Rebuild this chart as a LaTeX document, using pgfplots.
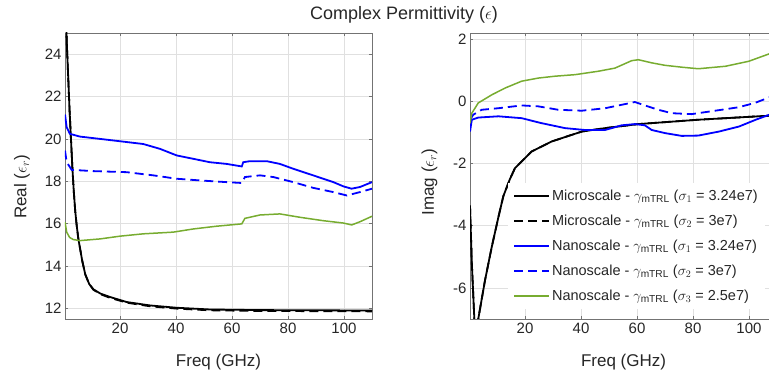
\documentclass[border=0pt]{standalone}
\usepackage{fontspec}
\setmainfont{Liberation Sans}
\usepackage{amsmath}
\usepackage{pgfplots}
\pgfplotsset{compat=1.18}
\definecolor{mgreen}{RGB}{119,172,48}
\definecolor{tcol}{RGB}{38,38,38}
\tikzset{
 bl/.style={black, line width=1.8pt},
 bd/.style={black, line width=1.8pt, dash pattern=on 9pt off 5pt},
 nl/.style={blue, line width=1.8pt},
 nd/.style={blue, line width=1.8pt, dash pattern=on 9pt off 5pt},
 gl/.style={mgreen, line width=1.5pt},
}
\pgfplotsset{
 mystyle/.style={
  scale only axis, width=307pt, height=286pt,
  xmin=0.35, xmax=110,
  xtick={20,40,60,80,100},
  grid=major,
  major grid style={color=black!12, line width=0.5pt},
  axis line style={black!55, line width=0.6pt},
  tick style={black!55, line width=0.6pt},
  tick align=inside,
  major tick length=3pt,
  ticklabel style={font=\fontsize{15}{17}\selectfont, text=tcol},
  label style={font=\fontsize{17}{20}\selectfont, text=tcol},
  /pgf/number format/assume math mode=true,
  xlabel={Freq (GHz)},
  xlabel style={at={(axis description cs:0.5,-0.152)}, anchor=center},
 },
}
\begin{document}
\begin{tikzpicture}[x=1pt,y=1pt]
\begin{axis}[mystyle, at={(65pt,55pt)}, anchor=south west,
  ymin=11.5, ymax=25, ytick={12,14,...,24},
  ylabel={Real ($\epsilon_r$)},
  ylabel style={at={(axis description cs:-0.14,0.4615)}, anchor=center}]
\addplot[bd] coordinates {(0.35,27.5)(1.0,24.5)(2.0,21.3)(3.0,18.6)(3.5,17.5)(4.0,16.6)(4.5,15.95)(5.1,15.3)(5.7,14.85)(6.5,14.25)(7.6,13.6)(9.0,13.15)(10.5,12.88)(13,12.67)(16.4,12.5)(22.4,12.27)(30.7,12.1)(40.25,11.99)(52,11.91)(70,11.88)(90,11.87)(110,11.86)};
\addplot[bl] coordinates {(0.35,27.5)(1.0,24.5)(2.0,21.3)(3.0,18.6)(3.5,17.5)(4.0,16.6)(4.5,15.95)(5.1,15.3)(5.7,14.85)(6.5,14.25)(7.6,13.6)(9.0,13.15)(10.5,12.9)(13,12.7)(16.4,12.54)(22.4,12.3)(30.7,12.14)(40.25,12.03)(52,11.95)(70,11.92)(90,11.91)(110,11.9)};
\addplot[nl] coordinates {(0.36,21.15)(0.95,20.55)(2.1,20.24)(5.7,20.11)(12.9,20.0)(20,19.89)(28.3,19.76)(34.3,19.53)(40.25,19.22)(46.2,19.06)(52.1,18.9)(58.1,18.82)(63.5,18.7)(64.0,18.9)(66.4,18.95)(72.4,18.95)(77.1,18.82)(81.9,18.59)(89,18.28)(96.2,17.96)(99.8,17.76)(102.7,17.65)(105.7,17.73)(110,17.96)};
\addplot[nd] coordinates {(0.36,19.45)(0.95,18.9)(2.75,18.54)(10.5,18.48)(22.4,18.43)(31.9,18.28)(40.25,18.12)(48.6,18.04)(58.1,17.96)(63.5,17.92)(64.6,18.2)(70,18.28)(74.75,18.2)(81.9,17.96)(89,17.69)(96.2,17.49)(101,17.33)(105.7,17.49)(110,17.65)};
\addplot[gl] coordinates {(0.36,16.07)(0.95,15.6)(2.0,15.35)(3.3,15.25)(5.7,15.2)(12.9,15.28)(20,15.41)(28.3,15.52)(39,15.6)(46.2,15.75)(54.5,15.88)(63.5,15.99)(64.6,16.25)(70,16.41)(77.1,16.46)(84.3,16.3)(92.6,16.14)(99.75,16.03)(102.75,15.94)(105.7,16.09)(110,16.35)};
\end{axis}
\begin{axis}[mystyle, at={(470pt,55pt)}, anchor=south west,
  ymin=-7, ymax=2.2, ytick={-6,-4,...,2},
  ylabel={Imag ($\epsilon_r$)},
  ylabel style={at={(axis description cs:-0.132,0.479)}, anchor=center},
  legend cell align=left,
  legend image code/.code={\draw[#1] (0pt,0pt) -- (35pt,0pt);},
  legend style={at={(0.124,0.4755)}, anchor=north west, draw=none, fill=white,
    font=\fontsize{14.5}{16}\selectfont, text=tcol, row sep=9pt, inner xsep=5pt, inner ysep=5pt}]
\addplot[bl] coordinates {(0.35,-3.35)(1.0,-5.2)(1.9,-7.0)(2.6,-8.0)(3.3,-7.0)(4.5,-6.38)(5.7,-5.76)(8.1,-4.69)(10.5,-3.72)(12.25,-3.05)(14.6,-2.5)(16.4,-2.15)(22.4,-1.61)(29.5,-1.29)(40.3,-0.97)(48.6,-0.86)(60.5,-0.73)(81.9,-0.59)(103.3,-0.48)(110,-0.45)};
\addlegendentry{Microscale - $\gamma_{\text{mTRL}}$ ($\sigma_1$ = 3.24e7)}
\addplot[bd] coordinates {(0.35,-3.35)(1.0,-5.2)(1.9,-7.0)(2.6,-8.0)(3.3,-7.0)(4.5,-6.38)(5.7,-5.76)(8.1,-4.69)(10.5,-3.72)(12.25,-3.05)(14.6,-2.5)(16.4,-2.15)(22.4,-1.61)(29.5,-1.29)(40.3,-0.97)(48.6,-0.86)(60.5,-0.73)(81.9,-0.59)(103.3,-0.48)(110,-0.45)};
\addlegendentry{Microscale - $\gamma_{\text{mTRL}}$ ($\sigma_2$ = 3e7)}
\addplot[nl] coordinates {(0.36,-0.97)(1.0,-0.59)(3.3,-0.52)(10.5,-0.48)(18.8,-0.54)(25.9,-0.7)(34.3,-0.86)(41.4,-0.92)(48.6,-0.92)(54.5,-0.77)(59.25,-0.73)(62.8,-0.77)(65.25,-0.92)(70,-1.02)(76,-1.11)(81.9,-1.1)(89.3,-0.97)(96.4,-0.81)(102.4,-0.59)(107.25,-0.43)(110,-0.38)};
\addlegendentry{Nanoscale - $\gamma_{\text{mTRL}}$ ($\sigma_1$ = 3.24e7)}
\addplot[nd] coordinates {(0.36,-0.59)(1.5,-0.43)(4.5,-0.27)(10.5,-0.22)(18.8,-0.13)(24.75,-0.16)(31.9,-0.27)(40.25,-0.3)(48.6,-0.22)(54.5,-0.11)(59.25,-0.02)(62.8,-0.13)(67.6,-0.27)(72.4,-0.38)(79.5,-0.41)(87.9,-0.3)(96.2,-0.19)(102.1,-0.05)(107.25,0.13)(110,0.18)};
\addlegendentry{Nanoscale - $\gamma_{\text{mTRL}}$ ($\sigma_2$ = 3e7)}
\addplot[gl] coordinates {(0.36,-0.7)(1.0,-0.38)(3.3,-0.05)(8.1,0.21)(12.9,0.43)(18.8,0.65)(24.75,0.75)(30.7,0.81)(37.9,0.86)(46.2,0.97)(52.1,1.07)(58.1,1.31)(60.5,1.34)(65.25,1.24)(70,1.16)(76,1.1)(81.9,1.05)(91.6,1.13)(99.9,1.29)(107.25,1.53)(110,1.6)};
\addlegendentry{Nanoscale - $\gamma_{\text{mTRL}}$ ($\sigma_3$ = 2.5e7)}
\end{axis}
\node[font=\fontsize{18}{20}\selectfont, text=tcol] at (404pt,359pt) {Complex Permittivity ($\epsilon$)};
\pgfresetboundingbox
\path[use as bounding box] (0pt,0pt) rectangle (769pt,374pt);
\end{tikzpicture}
\end{document}
